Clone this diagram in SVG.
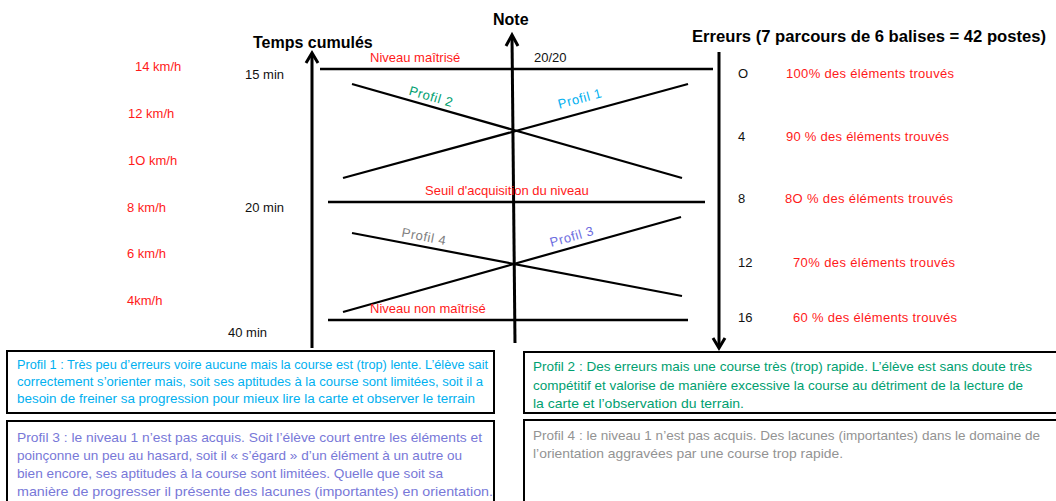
<svg xmlns="http://www.w3.org/2000/svg" width="1056" height="501" viewBox="0 0 1056 501">
<style>
text{font-family:"Liberation Sans",Arial,sans-serif;}
.t{font-size:16px;font-weight:bold;fill:#000;}
.r{font-size:13px;fill:#ff1a1a;}
.k{font-size:13px;fill:#111;}
.p{font-size:13px;letter-spacing:0.6px;}
.ax{stroke:#000;stroke-width:3;fill:none;stroke-linecap:butt;}
.hl{stroke:#000;stroke-width:2.5;fill:none;}
.xl{stroke:#000;stroke-width:2.2;fill:none;}
.box{fill:#fff;stroke:#000;stroke-width:2;}
.bt{font-family:Carlito,Calibri,"Liberation Sans",sans-serif;}
</style>
<g id="connectors">
  <line class="ax" x1="312" y1="54" x2="312" y2="348"/>
  <polyline class="ax" points="306,63 312,53 318,63"/>
  <line class="ax" x1="512" y1="36" x2="515" y2="343"/>
  <polyline class="ax" points="506,46 512,35 518,46"/>
  <line class="ax" x1="719" y1="52" x2="719" y2="346"/>
  <polyline class="ax" points="713,338 719,348 725,338"/>
  <line class="hl" x1="320" y1="69" x2="713" y2="69"/>
  <line class="hl" x1="328" y1="202" x2="705" y2="202"/>
  <line class="hl" x1="328" y1="320" x2="688" y2="320"/>
  <line class="xl" x1="352" y1="84" x2="682" y2="178"/>
  <line class="xl" x1="343" y1="178" x2="688" y2="84"/>
  <line class="xl" x1="352" y1="233" x2="682" y2="296"/>
  <line class="xl" x1="343" y1="312" x2="681" y2="217"/>
</g>
<g id="titles">
  <text class="t" x="253" y="48">Temps cumulés</text>
  <text class="t" x="493" y="25">Note</text>
  <text class="t" x="692" y="42" textLength="354" lengthAdjust="spacingAndGlyphs">Erreurs (7 parcours de 6 balises = 42 postes)</text>
</g>
<g id="speeds">
  <text class="r" x="135" y="71">14 km/h</text>
  <text class="r" x="128" y="118">12 km/h</text>
  <text class="r" x="128" y="165">1O km/h</text>
  <text class="r" x="127" y="212">8 km/h</text>
  <text class="r" x="127" y="258">6 km/h</text>
  <text class="r" x="127" y="305">4km/h</text>
</g>
<g id="times">
  <text class="k" x="245" y="79">15 min</text>
  <text class="k" x="245" y="212">20 min</text>
  <text class="k" x="228" y="337">40 min</text>
</g>
<g id="levels">
  <text class="r" x="370" y="62">Niveau maîtrisé</text>
  <text class="k" x="534" y="62">20/20</text>
  <text class="r" x="425" y="195">Seuil d'acquisition du niveau</text>
  <text class="r" x="370" y="313">Niveau non maîtrisé</text>
</g>
<g id="profile-labels">
  <text class="p" fill="#00a070" text-anchor="middle" transform="translate(431,97) rotate(16)" y="4">Profil 2</text>
  <text class="p" fill="#00b0f0" text-anchor="middle" transform="translate(580,99) rotate(-15)" y="4">Profil 1</text>
  <text class="p" fill="#808080" text-anchor="middle" transform="translate(424,237) rotate(11)" y="4">Profil 4</text>
  <text class="p" fill="#6e6ee0" text-anchor="middle" transform="translate(572,237) rotate(-16)" y="4">Profil 3</text>
</g>
<g id="errors">
  <text class="k" x="738" y="78">O</text>
  <text class="r" x="786" y="78" textLength="168">100% des éléments trouvés</text>
  <text class="k" x="738" y="141">4</text>
  <text class="r" x="786" y="141" textLength="163">90 % des éléments trouvés</text>
  <text class="k" x="738" y="203">8</text>
  <text class="r" x="785" y="203" textLength="168">8O % des éléments trouvés</text>
  <text class="k" x="738" y="267">12</text>
  <text class="r" x="793" y="267" textLength="162">70% des éléments trouvés</text>
  <text class="k" x="738" y="322">16</text>
  <text class="r" x="793" y="322" textLength="164">60 % des éléments trouvés</text>
</g>
<g id="box-profil1">
  <rect class="box" x="7" y="351" width="487" height="62"/>
  <g class="bt" font-size="12" fill="#00b0f0">
    <text x="17" y="369" textLength="471" lengthAdjust="spacingAndGlyphs">Profil 1 : Très peu d’erreurs voire aucune mais la course est (trop) lente. L’élève sait</text>
    <text x="17" y="386" textLength="466" lengthAdjust="spacingAndGlyphs">correctement s’orienter mais, soit ses aptitudes à la course sont limitées, soit il a</text>
    <text x="17" y="403" textLength="458" lengthAdjust="spacingAndGlyphs">besoin de freiner sa progression pour mieux lire la carte et observer le terrain</text>
  </g>
</g>
<g id="box-profil3">
  <rect class="box" x="7" y="421" width="487" height="90"/>
  <g class="bt" font-size="13.5" fill="#7878d8">
    <text x="17" y="442" textLength="465" lengthAdjust="spacingAndGlyphs">Profil 3 : le niveau 1 n’est pas acquis. Soit l’élève court entre les éléments et</text>
    <text x="17" y="460" textLength="445" lengthAdjust="spacingAndGlyphs">poinçonne un peu au hasard, soit il « s’égard » d’un élément à un autre ou</text>
    <text x="17" y="478" textLength="426" lengthAdjust="spacingAndGlyphs">bien encore, ses aptitudes à la course sont limitées. Quelle que soit sa</text>
    <text x="17" y="496" textLength="476" lengthAdjust="spacingAndGlyphs">manière de progresser il présente des lacunes (importantes) en orientation.</text>
  </g>
</g>
<g id="box-profil2">
  <rect class="box" x="524" y="352" width="600" height="61"/>
  <g class="bt" font-size="13.5" fill="#00a070">
    <text x="533" y="371" textLength="499" lengthAdjust="spacingAndGlyphs">Profil 2 : Des erreurs mais une course très (trop) rapide. L’élève est sans doute très</text>
    <text x="533" y="390" textLength="490" lengthAdjust="spacingAndGlyphs">compétitif et valorise de manière excessive la course au détriment de la lecture de</text>
    <text x="533" y="408" textLength="211" lengthAdjust="spacingAndGlyphs">la carte et l’observation du terrain.</text>
  </g>
</g>
<g id="box-profil4">
  <rect class="box" x="524" y="420" width="600" height="90"/>
  <g class="bt" font-size="13.5" fill="#939393">
    <text x="533" y="440" textLength="507" lengthAdjust="spacingAndGlyphs">Profil 4 : le niveau 1 n’est pas acquis. Des lacunes (importantes) dans le domaine de</text>
    <text x="533" y="458" textLength="310" lengthAdjust="spacingAndGlyphs">l’orientation aggravées par une course trop rapide.</text>
  </g>
</g>
</svg>
